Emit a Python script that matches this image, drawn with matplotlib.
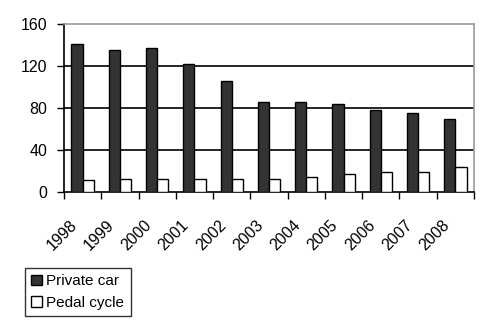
import matplotlib
matplotlib.use("Agg")
import matplotlib.pyplot as plt
import matplotlib.transforms as mtransforms
import numpy as np

years = ["1998", "1999", "2000", "2001", "2002", "2003", "2004", "2005", "2006", "2007", "2008"]
private_car = [141, 135, 137.5, 122, 106, 86, 86, 84, 78, 75.5, 70]
pedal_cycle = [11, 12, 12, 12, 12, 12, 14, 17.5, 19, 19, 23.5]
yticks = [0, 40, 80, 120, 160]

plt.rcParams['font.family'] = ['Liberation Sans', 'DejaVu Sans']

fig = plt.figure(figsize=(4.83, 3.23), dpi=100)
ax = fig.add_axes([64/483, 1 - 192/323, (474-64)/483, (192-24)/323])

x = np.arange(len(years))
w = 0.3
ax.bar(x - w/2, private_car, w, color='#333333', edgecolor='black', linewidth=1, label='Private car', zorder=3)
ax.bar(x + w/2, pedal_cycle, w, color='white', edgecolor='black', linewidth=1, label='Pedal cycle', zorder=3)

ax.set_xlim(-0.5, len(years) - 0.5)
ax.set_ylim(0, 160)
ax.set_yticks(yticks)
ax.set_yticklabels([str(v) for v in yticks], fontsize=11.5)
for v in yticks[1:-1]:
    ax.axhline(v, color='black', linewidth=1.2, zorder=1)

# category boundary ticks
ax.set_xticks(np.arange(-0.5, len(years), 1.0))
ax.set_xticklabels([])
ax.set_xticks(x, minor=True)
ax.set_xticklabels(years, minor=True, rotation=45, ha='right', va='center',
                   rotation_mode='anchor', fontsize=11.5)
ax.tick_params(axis='x', which='minor', length=0, pad=0)
ax.tick_params(axis='x', which='major', length=5, direction='out', width=1)
ax.tick_params(axis='y', length=5, direction='out', width=1, pad=7)

offset = mtransforms.ScaledTranslation(-8/100, -31/100, fig.dpi_scale_trans)
for lbl in ax.get_xticklabels(minor=True):
    lbl.set_transform(lbl.get_transform() + offset)

for s in ['top', 'right']:
    ax.spines[s].set_color('#999999')
    ax.spines[s].set_linewidth(1.2)
for s in ['left', 'bottom']:
    ax.spines[s].set_color('black')
    ax.spines[s].set_linewidth(1.2)

leg = fig.legend(loc='lower left', bbox_to_anchor=(25/483, 1 - 316/323), fontsize=11,
                 frameon=True, fancybox=False, edgecolor='black', handlelength=0.7,
                 handleheight=0.7, handletextpad=0.3, borderpad=0.4, labelspacing=0.5,
                 borderaxespad=0)
leg.get_frame().set_linewidth(1)

fig.savefig('out.png', dpi=100)
